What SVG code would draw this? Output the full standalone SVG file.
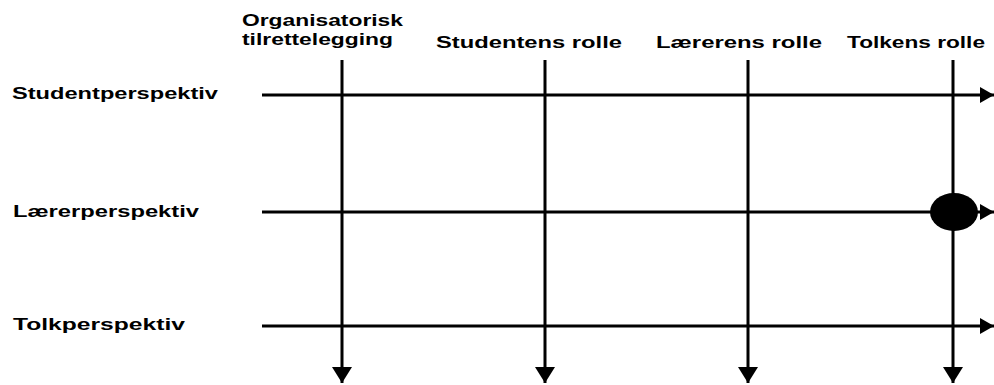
<svg xmlns="http://www.w3.org/2000/svg" width="994" height="385" viewBox="0 0 994 385">
  <defs>
    <style>
      .lbl { font-family: "Liberation Sans", Arial, sans-serif; font-size: 17px; font-weight: bold; fill: #000; }
      .ln { stroke: #000; stroke-width: 3; fill: none; }
    </style>
    <marker id="arrR" markerUnits="userSpaceOnUse" markerWidth="14" markerHeight="20" refX="14" refY="10" orient="auto">
      <path d="M0,2 L14,10 L0,18 Z" fill="#000"/>
    </marker>
    <marker id="arrD" markerUnits="userSpaceOnUse" markerWidth="16" markerHeight="22" refX="16" refY="11" orient="auto">
      <path d="M0,1 L16,11 L0,21 Z" fill="#000"/>
    </marker>
  </defs>
  <rect width="994" height="385" fill="#fff"/>

  <!-- column headers -->
  <g id="col-org">
    <text class="lbl" x="242" y="26" textLength="161" lengthAdjust="spacingAndGlyphs">Organisatorisk</text>
    <text class="lbl" x="242" y="45" textLength="151" lengthAdjust="spacingAndGlyphs">tilrettelegging</text>
  </g>
  <g id="col-student">
    <text class="lbl" x="436" y="48" textLength="186" lengthAdjust="spacingAndGlyphs">Studentens rolle</text>
  </g>
  <g id="col-laerer">
    <text class="lbl" x="656" y="48" textLength="166" lengthAdjust="spacingAndGlyphs">Lærerens rolle</text>
  </g>
  <g id="col-tolk">
    <text class="lbl" x="847" y="48" textLength="138" lengthAdjust="spacingAndGlyphs">Tolkens rolle</text>
  </g>

  <!-- row headers -->
  <g id="row-student">
    <text class="lbl" x="12" y="99" textLength="206" lengthAdjust="spacingAndGlyphs">Studentperspektiv</text>
  </g>
  <g id="row-laerer">
    <text class="lbl" x="13" y="217" textLength="186" lengthAdjust="spacingAndGlyphs">Lærerperspektiv</text>
  </g>
  <g id="row-tolk">
    <text class="lbl" x="13" y="330" textLength="172" lengthAdjust="spacingAndGlyphs">Tolkperspektiv</text>
  </g>

  <!-- axes -->
  <g id="connectors">
    <line class="ln" x1="262" y1="95" x2="994" y2="95" marker-end="url(#arrR)"/>
    <line class="ln" x1="262" y1="212" x2="994" y2="212" marker-end="url(#arrR)"/>
    <line class="ln" x1="262" y1="326" x2="994" y2="326" marker-end="url(#arrR)"/>
    <line class="ln" x1="342" y1="60" x2="342" y2="383" marker-end="url(#arrD)"/>
    <line class="ln" x1="545" y1="60" x2="545" y2="383" marker-end="url(#arrD)"/>
    <line class="ln" x1="748" y1="60" x2="748" y2="383" marker-end="url(#arrD)"/>
    <line class="ln" x1="953" y1="60" x2="953" y2="383" marker-end="url(#arrD)"/>
  </g>

  <!-- highlighted intersection -->
  <g id="mark">
    <ellipse cx="954" cy="212" rx="24" ry="19" fill="#000"/>
  </g>
</svg>
